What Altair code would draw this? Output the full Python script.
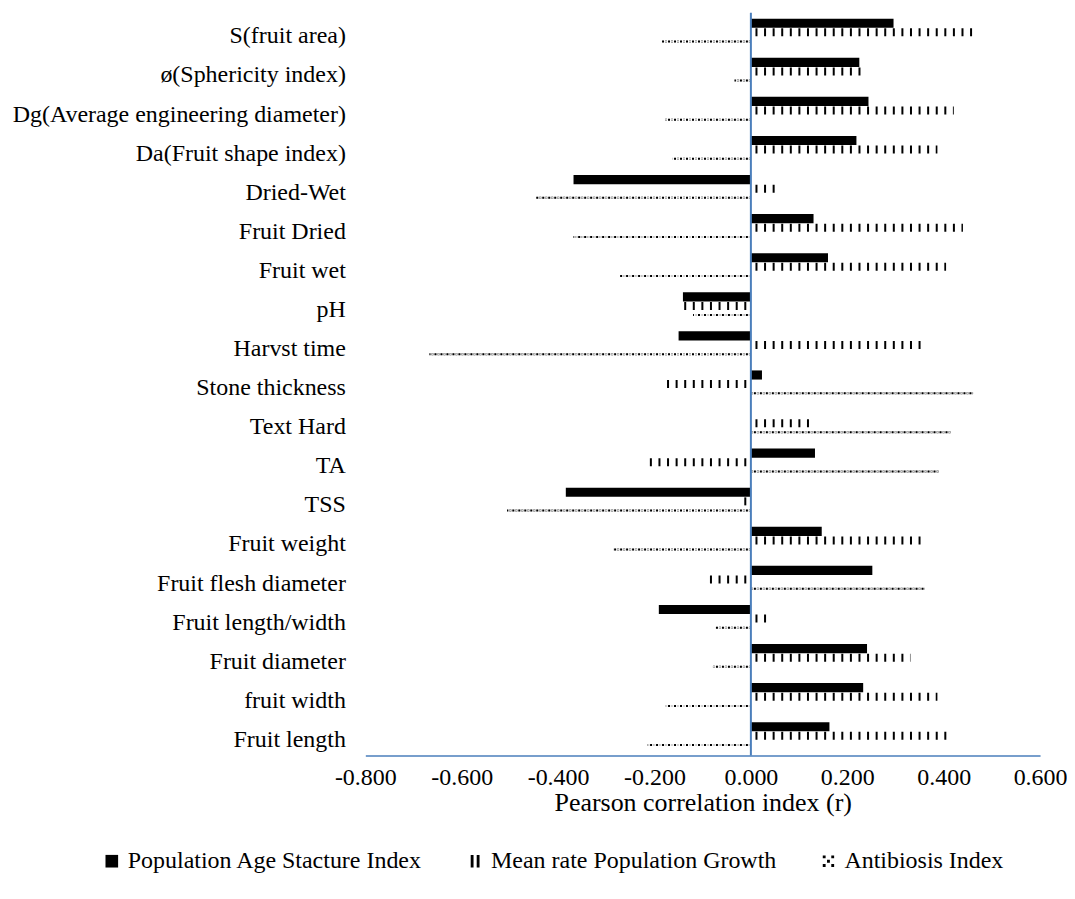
import altair as alt
import pandas as pd

cats = ["S(fruit area)", "ø(Sphericity index)", "Dg(Average engineering diameter)",
        "Da(Fruit shape index)", "Dried-Wet", "Fruit Dried", "Fruit wet", "pH",
        "Harvst time", "Stone thickness", "Text Hard", "TA", "TSS", "Fruit weight",
        "Fruit flesh diameter", "Fruit length/width", "Fruit diameter", "fruit width",
        "Fruit length"]

series = ["Population Age Stacture Index", "Mean rate Population Growth", "Antibiosis Index"]

age = [0.296, 0.225, 0.244, 0.219, -0.368, 0.130, 0.160, -0.141, -0.150, 0.023,
       0.0, 0.133, -0.384, 0.147, 0.252, -0.191, 0.241, 0.233, 0.163]
mean_rate = [0.467, 0.229, 0.421, 0.387, 0.054, 0.440, 0.405, -0.144, 0.361, -0.180,
             0.123, -0.215, -0.023, 0.352, -0.092, 0.033, 0.331, 0.387, 0.406]
anti = [-0.185, -0.034, -0.178, -0.162, -0.446, -0.368, -0.272, -0.120, -0.667, 0.461,
        0.415, 0.390, -0.506, -0.286, 0.361, -0.073, -0.079, -0.180, -0.215]

x_ticks = [-0.8, -0.6, -0.4, -0.2, 0.0, 0.2, 0.4, 0.6]

rows = []
for s, vals in zip(series, [age, mean_rate, anti]):
    for c, v in zip(cats, vals):
        rows.append({"cat": c, "series": s, "value": v, "base": 0.0})
df = pd.DataFrame(rows)

FONT = "Liberation Serif"
BLUE = "#4a7ebb"

y_enc = alt.Y("cat:N", sort=cats, title=None,
              scale=alt.Scale(paddingInner=0.3, paddingOuter=0.15),
              axis=alt.Axis(domain=False, ticks=False, labelPadding=20, labelOffset=4,
                            labelFont=FONT, labelFontSize=24, labelColor="black",
                            labelLimit=600))
yoff = alt.YOffset("series:N", scale=alt.Scale(domain=series))
x_scale = alt.Scale(domain=[-0.8, 0.6], nice=False)
x_axis = alt.Axis(values=x_ticks, grid=False, ticks=False, labelOverlap=False,
                  labelFlush=False,
                  labelExpr="replace(format(datum.value, '.3f'), '\u2212', '-')",
                  domainColor=BLUE, domainWidth=1.5, labelPadding=10,
                  labelFont=FONT, labelFontSize=24, labelColor="black",
                  title="Pearson correlation index (r)", titleFont=FONT,
                  titleFontSize=26, titleFontWeight="normal", titleColor="black",
                  titlePadding=0)

base = alt.Chart(df)

bars = base.transform_filter(alt.datum.series == series[0]).mark_bar(color="black").encode(
    x=alt.X("value:Q", scale=x_scale, axis=x_axis),
    x2="base:Q",
    y=y_enc,
    yOffset=yoff,
)

stripes = base.transform_filter(alt.datum.series == series[1]).mark_rule(
    color="black", strokeWidth=8, strokeDash=[2, 6.6], strokeDashOffset=4
).encode(
    x=alt.X("base:Q", scale=x_scale),
    x2="value:Q",
    y=y_enc,
    yOffset=yoff,
)

def dots(dy, color, off):
    return base.transform_filter(alt.datum.series == series[2]).mark_rule(
        color=color, strokeWidth=2, strokeDash=[2, 4], strokeDashOffset=off,
        yOffset=dy
    ).encode(
        x=alt.X("base:Q", scale=x_scale),
        x2="value:Q",
        y=y_enc,
        yOffset=yoff,
    )

dotlayers = [dots(-2.5, "black", 0), dots(-2.5, "#d4d4d4", 3),
             dots(2.5, "black", 3), dots(2.5, "#d4d4d4", 0)]

zero = alt.Chart(pd.DataFrame({"z": [0.0]})).mark_rule(color=BLUE, strokeWidth=2).encode(
    x=alt.X("z:Q", scale=x_scale)
)

square = "M-1,-1H1V1H-1Z"
stripe_sym = "M-0.7,-1H-0.25V1H-0.7Z M0.25,-1H0.7V1H0.25Z"
dot_sym = ("M-0.9,-0.9h0.45v0.45h-0.45Z M0.45,-0.9h0.45v0.45h-0.45Z "
           "M-0.225,-0.225h0.45v0.45h-0.45Z M-0.9,0.45h0.45v0.45h-0.45Z "
           "M0.45,0.45h0.45v0.45h-0.45Z")

legend_pts = base.mark_point(filled=True, opacity=0, color="black").encode(
    x=alt.X("value:Q", scale=x_scale),
    y=alt.Y("cat:N", sort=cats),
    yOffset=yoff,
    shape=alt.Shape("series:N",
                    scale=alt.Scale(domain=series, range=[square, stripe_sym, dot_sym]),
                    legend=alt.Legend(title=None, orient="none", direction="horizontal",
                                      legendX=-266, legendY=838,
                                      labelFont=FONT, labelFontSize=24,
                                      labelColor="black", symbolSize=160,
                                      symbolStrokeWidth=0, columnPadding=40,
                                      labelOffset=4, labelLimit=600)),
)

chart = alt.layer(bars, stripes, *dotlayers, zero, legend_pts).properties(
    width=676, height=744, padding={"top": 3, "left": 3, "right": 0, "bottom": 3}
).configure_view(stroke=None)

chart.save("out.html", embed_options={"renderer": "svg", "actions": False})
